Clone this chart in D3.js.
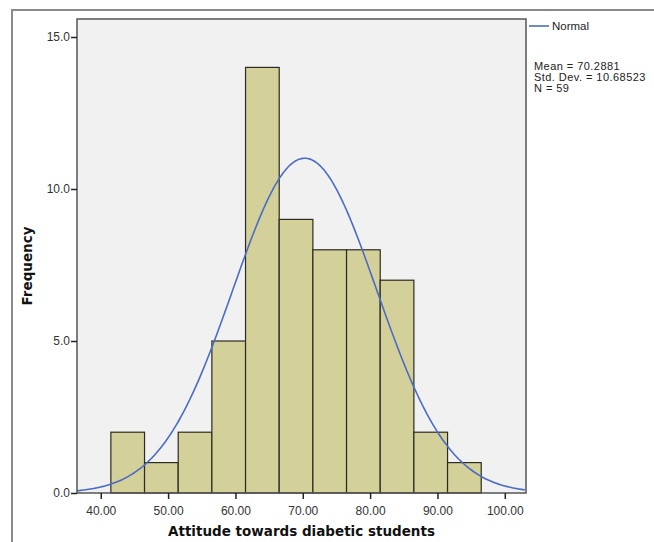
<!DOCTYPE html>
<html>
<head>
<meta charset="utf-8">
<script src="https://cdn.jsdelivr.net/npm/d3@7"></script>
<style>
  html, body { margin: 0; padding: 0; background: #fff; }
  svg { display: block; }
</style>
</head>
<body>
<div id="chart"></div>
<script>
// histogram bins (lower edges) and counts
const binStarts = [41.5, 46.5, 51.5, 56.5, 61.5, 66.5, 71.5, 76.5, 81.5, 86.5, 91.5];
const binWidth = 5;
const counts = [2, 1, 2, 5, 14, 9, 8, 8, 7, 2, 1];
const xTicks = [40, 50, 60, 70, 80, 90, 100];
const yTicks = [0, 5, 10, 15];
const statMean = 70.2881;
const statSd = 10.68523;
const statN = 59;

const width = 654, height = 542;
const plot = { left: 77, right: 526, top: 19, bottom: 493 };

const svg = d3.select("#chart").append("svg")
  .attr("width", width)
  .attr("height", height);

// outer frame
svg.append("rect")
  .attr("x", 12).attr("y", 10)
  .attr("width", 700).attr("height", 600)
  .attr("fill", "#fff")
  .attr("stroke", "#8a8a8a")
  .attr("stroke-width", 2);

const x = d3.scaleLinear().domain([36.47, 103.15]).range([plot.left, plot.right]);
const y = d3.scaleLinear().domain([0, 15]).range([plot.bottom, plot.bottom - 15 * 30.4]);

// plot background
svg.append("rect")
  .attr("x", plot.left).attr("y", plot.top)
  .attr("width", plot.right - plot.left)
  .attr("height", plot.bottom - plot.top)
  .attr("fill", "#f1f1f1");

// bars
svg.selectAll(".bar")
  .data(counts)
  .enter()
  .append("rect")
  .attr("class", "bar")
  .attr("x", (d, i) => x(binStarts[i]))
  .attr("y", (d) => y(d))
  .attr("width", (d, i) => x(binStarts[i] + binWidth) - x(binStarts[i]))
  .attr("height", (d) => y(0) - y(d))
  .attr("fill", "#d4d09a")
  .attr("stroke", "#2b2b22")
  .attr("stroke-width", 1.2);

// normal curve scaled to counts
const scaleK = statN * binWidth / (statSd * Math.sqrt(2 * Math.PI));
const curvePts = d3.range(x.domain()[0], x.domain()[1] + 0.01, 0.25)
  .map((v) => [v, scaleK * Math.exp(-0.5 * Math.pow((v - statMean) / statSd, 2))]);

svg.append("path")
  .datum(curvePts)
  .attr("fill", "none")
  .attr("stroke", "#4b6cc4")
  .attr("stroke-width", 1.6)
  .attr("d", d3.line().x((d) => x(d[0])).y((d) => y(d[1])).curve(d3.curveBasis));

// plot border
svg.append("rect")
  .attr("x", plot.left).attr("y", plot.top)
  .attr("width", plot.right - plot.left)
  .attr("height", plot.bottom - plot.top)
  .attr("fill", "none")
  .attr("stroke", "#555")
  .attr("stroke-width", 1.5);

// x axis
const xAxis = svg.append("g")
  .attr("transform", `translate(0, ${plot.bottom})`)
  .call(d3.axisBottom(x).tickValues(xTicks).tickFormat(d3.format(".2f")).tickSize(6).tickSizeOuter(0));
xAxis.select(".domain").remove();
xAxis.selectAll("line").attr("stroke", "#222").attr("stroke-width", 1.5);
xAxis.selectAll("text")
  .attr("dy", "1.05em")
  .style("font-family", "'Liberation Sans', Arial, sans-serif")
  .style("font-size", "12px")
  .style("fill", "#333");

// y axis
const yAxis = svg.append("g")
  .attr("transform", `translate(${plot.left}, 0)`)
  .call(d3.axisLeft(y).tickValues(yTicks).tickFormat(d3.format(".1f")).tickSize(6).tickSizeOuter(0));
yAxis.select(".domain").remove();
yAxis.selectAll("line").attr("stroke", "#222").attr("stroke-width", 1.5);
yAxis.selectAll("text")
  .attr("x", -7)
  .style("font-family", "'Liberation Sans', Arial, sans-serif")
  .style("font-size", "12px")
  .style("fill", "#333");

// axis titles
svg.append("text")
  .attr("x", (plot.left + plot.right) / 2)
  .attr("y", 536)
  .attr("text-anchor", "middle")
  .style("font-family", "'DejaVu Sans', sans-serif")
  .style("font-weight", "bold")
  .style("font-size", "13.5px")
  .style("fill", "#111")
  .text("Attitude towards diabetic students");

svg.append("text")
  .attr("transform", `translate(32, ${(plot.top + plot.bottom) / 2 + 10}) rotate(-90)`)
  .attr("text-anchor", "middle")
  .style("font-family", "'DejaVu Sans', sans-serif")
  .style("font-weight", "bold")
  .style("font-size", "13.5px")
  .style("fill", "#111")
  .text("Frequency");

// legend
const leg = svg.append("g")
  .style("font-family", "'Liberation Sans', Arial, sans-serif")
  .style("font-size", "11px")
  .style("fill", "#222");

leg.append("line")
  .attr("x1", 529).attr("x2", 549)
  .attr("y1", 26).attr("y2", 26)
  .attr("stroke", "#4b6cc4")
  .attr("stroke-width", 1.6);

leg.append("text").attr("x", 552).attr("y", 30).style("font-size", "11.5px").text("Normal");

const statLines = [
  `Mean = ${statMean.toFixed(4)}`,
  `Std. Dev. = ${statSd.toFixed(5)}`,
  `N = ${statN}`
];
leg.selectAll(".stat")
  .data(statLines)
  .enter()
  .append("text")
  .attr("class", "stat")
  .attr("x", 534)
  .attr("y", (d, i) => 70 + i * 11)
  .style("letter-spacing", "0.45px")
  .text((d) => d);
</script>
</body>
</html>
